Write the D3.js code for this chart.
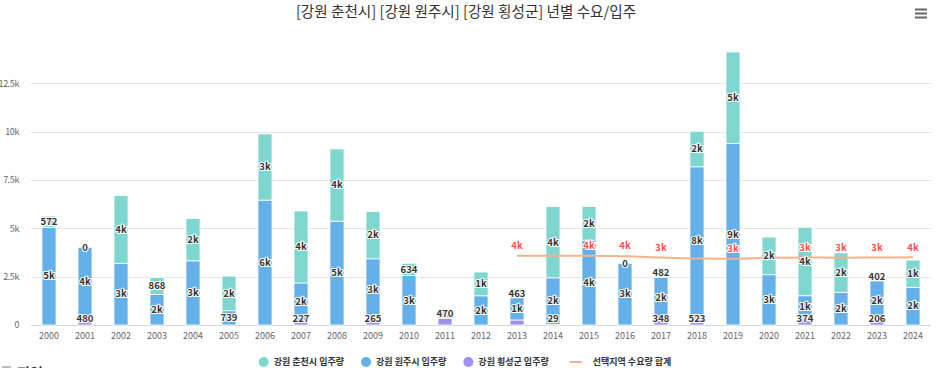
<!DOCTYPE html>
<html><head><meta charset="utf-8">
<script src="https://cdn.jsdelivr.net/npm/d3@7/dist/d3.min.js"></script>
<style>
html,body{margin:0;padding:0;background:#fff;overflow:hidden;}
text{font-family:"Noto Sans CJK KR","Noto Sans",sans-serif;}
</style></head>
<body>
<svg id="chart" width="936" height="368"></svg>
<script>
const years = ["2000","2001","2002","2003","2004","2005","2006","2007","2008","2009","2010","2011","2012","2013","2014","2015","2016","2017","2018","2019","2020","2021","2022","2023","2024"];
const chuncheon = [572,0,3510,868,2190,1790,3420,3720,3740,2450,634,470,1230,463,3690,1740,0,482,1840,4730,1950,3540,2040,402,1410];
const wonju = [5060,3540,3190,1580,3320,739,6460,1950,5370,3160,2560,null,1510,1150,2410,4390,3190,2130,7660,9390,2600,1140,1690,2080,1950];
const hoengseong = [null,480,null,null,null,null,null,227,null,265,null,350,null,260,29,null,null,348,523,null,null,374,null,206,null];
const demand = [null,null,null,null,null,null,null,null,null,null,null,null,null,3580,3580,3580,3560,3490,3440,3430,3480,3490,3480,3490,3500];
const yTicks = [0,2500,5000,7500,10000,12500];
const seriesNames = ["강원 춘천시 입주량","강원 원주시 입주량","강원 횡성군 입주량","선택지역 수요량 합계"];
const colors = ["#7dd7cf","#63b0eb","#9d90f2","#f7b28a"];

(function(){
const svg = d3.select("#chart");
const pLeft = 31, pRight = 931, pTop = 35, pBottom = 325;
const x = d3.scaleBand().domain(years).range([pLeft, pRight]).paddingInner(0.61).paddingOuter(0.305);
const y = d3.scaleLinear().domain([0, 15000]).range([pBottom, pTop]);

svg.append("text").attr("x", 466).attr("y", 17).attr("text-anchor", "middle")
  .style("font-size", "14.6px").style("fill", "#333")
  .text("[강원 춘천시] [강원 원주시] [강원 횡성군] 년별 수요/입주");

[9.5, 13.5, 17.5].forEach(v => svg.append("line").attr("x1", 915).attr("x2", 927).attr("y1", v).attr("y2", v)
  .attr("stroke", "#666").attr("stroke-width", 2));

const grid = svg.append("g");
yTicks.forEach(t => {
  if (t === 0) return;
  grid.append("line").attr("x1", pLeft).attr("x2", pRight).attr("y1", Math.round(y(t)) + 0.5).attr("y2", Math.round(y(t)) + 0.5)
    .attr("stroke", "#e6e6e6").attr("stroke-width", 1);
});
const fmtTick = d => d === 0 ? "0" : (d / 1000) + "k";
const yAxis = d3.axisLeft(y).tickValues(yTicks).tickFormat(fmtTick).tickSize(0).tickPadding(0);
const gy = svg.append("g").attr("transform", "translate(19,0)").call(yAxis);
gy.select(".domain").remove();
gy.selectAll("text").style("font-size", "9px").style("fill", "#666").style("letter-spacing", "-0.4px").attr("dy", "0.32em");

const xAxis = d3.axisBottom(x).tickSize(0).tickPadding(8);
const gx = svg.append("g").attr("transform", `translate(0,${pBottom})`).call(xAxis);
gx.select(".domain").attr("stroke", "#ccd6eb").attr("d", `M${pLeft},0.5H${pRight}`);
gx.selectAll("text").style("font-size", "9px").style("fill", "#666");

const stackOrder = [2, 1, 0];
const seriesVals = [chuncheon, wonju, hoengseong];
const segs = [];
years.forEach((yr, i) => {
  let base = 0;
  stackOrder.forEach(s => {
    const v = seriesVals[s][i];
    if (v === null || v === undefined) return;
    segs.push({ yr, s, v, y0: base, y1: base + v });
    base += v;
  });
});
svg.append("g").selectAll("rect").data(segs).join("rect")
  .attr("x", d => x(d.yr)).attr("width", x.bandwidth())
  .attr("y", d => y(d.y1)).attr("height", d => Math.max(0, y(d.y0) - y(d.y1)))
  .attr("fill", d => colors[d.s]).attr("stroke", "#fff").attr("stroke-width", 0.8);

const lineData = years.map((yr, i) => ({ yr, v: demand[i] })).filter(d => d.v !== null);
const line = d3.line().x(d => x(d.yr) + x.bandwidth() / 2).y(d => y(d.v)).curve(d3.curveMonotoneX);
svg.append("path").datum(lineData).attr("d", line).attr("fill", "none")
  .attr("stroke", colors[3]).attr("stroke-width", 2);

const fmtLab = v => v >= 1000 ? Math.round(v / 1000) + "k" : String(v);
const labels = [];
[0, 1, 2].forEach(s => {
  segs.filter(d => d.s === s).forEach(d => {
    let cy = (y(d.y0) + y(d.y1)) / 2;
    cy = Math.min(cy, pBottom - 6);
    labels.push({ yr: d.yr, cy, text: fmtLab(d.v), color: "#333" });
  });
});
lineData.forEach(d => labels.push({ yr: d.yr, cy: y(d.v) - 10, text: fmtLab(d.v), color: "#ff4d4d" }));
const shown = [];
labels.forEach(l => {
  const clash = shown.some(o => o.yr === l.yr && Math.abs(o.cy - l.cy) < 12);
  if (!clash) shown.push(l);
});
svg.append("g").selectAll("text").data(shown).join("text")
  .attr("x", d => x(d.yr) + x.bandwidth() / 2).attr("y", d => d.cy).attr("dy", "0.35em")
  .attr("text-anchor", "middle")
  .style("font-size", "9.5px").style("font-weight", "bold")
  .style("fill", d => d.color).style("stroke", "#fff").style("stroke-width", 2.2)
  .style("stroke-linejoin", "round").style("paint-order", "stroke")
  .text(d => d.text);

const lg = svg.append("g");
let lx = 0;
seriesNames.forEach((n, i) => {
  const g = lg.append("g").attr("transform", `translate(${lx},0)`);
  if (i < 3) g.append("circle").attr("cx", 0).attr("cy", 0).attr("r", 5).attr("fill", colors[i]);
  else g.append("line").attr("x1", -6).attr("x2", 6).attr("y1", 0).attr("y2", 0).attr("stroke", colors[i]).attr("stroke-width", 2);
  const tx = i < 3 ? 10 : 17;
  const t = g.append("text").attr("x", tx).attr("y", 0).attr("dy", "0.35em")
    .style("font-size", "9px").style("font-weight", "bold").style("fill", "#333").text(n);
  const w = t.node().getComputedTextLength();
  lx += tx + w + 22;
  if (i === 2) lx += 5;
});
const bb = lg.node().getBBox();
lg.attr("transform", `translate(${465 - (bb.x + bb.width / 2)},362)`);

svg.append("rect").attr("x", 2).attr("y", 366).attr("width", 9).attr("height", 6).attr("fill", "#bbb");
svg.append("text").attr("x", 17).attr("y", 378).style("font-size", "14px").style("font-weight", "bold").style("fill", "#333").text("지역");
})();
</script>
</body></html>
